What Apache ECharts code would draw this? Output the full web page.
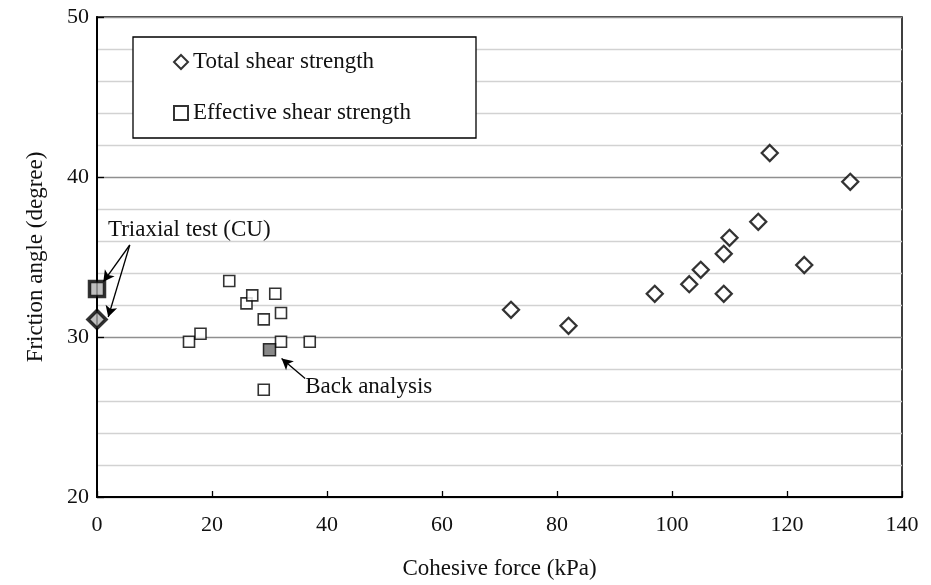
<!DOCTYPE html>
<html><head><meta charset="utf-8">
<script src="https://cdn.jsdelivr.net/npm/echarts@6/dist/echarts.min.js"></script>
<style>html,body{margin:0;padding:0;background:#fff}#c{width:931px;height:585px}</style>
</head><body><div id="c"></div>
<script>
// ---- data ----
const totalC   = [72, 82, 97, 103, 105, 109, 109, 110, 115, 117, 123, 131];
const totalPhi = [31.7, 30.7, 32.7, 33.3, 34.2, 32.7, 35.2, 36.2, 37.2, 41.5, 34.5, 39.7];
const effC     = [16, 18, 23, 26, 27, 29, 31, 32, 32, 37, 29];
const effPhi   = [29.7, 30.2, 33.5, 32.1, 32.6, 31.1, 32.7, 31.5, 29.7, 29.7, 26.7];
const triaxialTotal = [[0, 31.1]];
const triaxialEff   = [[0, 33.0]];
const backAnalysis  = [[30, 29.2]];
const xTickValues = [0, 20, 40, 60, 80, 100, 120, 140];
const yTickValues = [20, 30, 40, 50];
const seriesNames = ['Total shear strength', 'Effective shear strength'];
// annotation anchors (data coords)
const triaxialLabelAt = [1.9, 36.7];
const triaxialArrowFrom = [5.7, 35.75];
const triaxialArrowTo = [[1.1, 33.45], [1.95, 31.25]];
const backLabelAt = [36.2, 26.87];
const backArrowFrom = [36.2, 27.4];
const backArrowTo = [32.1, 28.65];

const FONT = '"Liberation Serif", "Times New Roman", serif';
const zip = (a, b) => a.map((v, i) => [v, b[i]]);

const chart = echarts.init(document.getElementById('c'), null, {renderer: 'canvas', width: 931, height: 585});
const arrowStyle = {color: '#000', width: 1.3, type: 'solid'};

chart.setOption({
  animation: false,
  backgroundColor: '#fff',
  grid: {left: 97, right: 29, top: 17, bottom: 83, show: true, borderColor: '#000', borderWidth: 1.5, backgroundColor: 'transparent'},
  xAxis: {
    type: 'value', min: xTickValues[0], max: xTickValues[xTickValues.length - 1], interval: 20,
    name: 'Cohesive force (kPa)', nameLocation: 'middle', nameGap: 60,
    nameTextStyle: {fontFamily: FONT, fontSize: 23, color: '#111'},
    axisLine: {show: true, onZero: false, lineStyle: {color: '#000', width: 2}},
    axisTick: {show: true, inside: true, length: 6, lineStyle: {color: '#000', width: 1.3}},
    axisLabel: {fontFamily: FONT, fontSize: 22, color: '#111', margin: 17},
    splitLine: {show: false}
  },
  yAxis: {
    type: 'value', min: yTickValues[0], max: yTickValues[yTickValues.length - 1], interval: 10,
    name: 'Friction angle (degree)', nameLocation: 'middle', nameGap: 50,
    nameTextStyle: {fontFamily: FONT, fontSize: 23, color: '#111'},
    axisLine: {show: true, onZero: false, lineStyle: {color: '#000', width: 2}},
    axisTick: {show: true, inside: true, length: 7, lineStyle: {color: '#000', width: 1.3}},
    axisLabel: {fontFamily: FONT, fontSize: 22, color: '#111', margin: 8},
    splitLine: {show: true, lineStyle: {color: '#8f8f8f', width: 1.3}},
    minorTick: {show: false, splitNumber: 5},
    minorSplitLine: {show: true, lineStyle: {color: '#d2d2d2', width: 1.3}}
  },
  legend: {
    data: seriesNames, orient: 'vertical', left: 173, top: 50, padding: 0,
    itemGap: 27, itemWidth: 14, itemHeight: 14, z: 20,
    textStyle: {fontFamily: FONT, fontSize: 23, color: '#111', lineHeight: 24}
  },
  series: [
    {name: seriesNames[0], type: 'scatter', clip: false, symbol: 'diamond', symbolSize: 16,
     itemStyle: {color: '#fff', borderColor: '#000', borderWidth: 2.3}, data: zip(totalC, totalPhi), z: 5},
    {name: seriesNames[1], type: 'scatter', clip: false, symbol: 'rect', symbolSize: 11,
     itemStyle: {color: '#fff', borderColor: '#000', borderWidth: 1.6}, data: zip(effC, effPhi), z: 5},
    {name: 'Triaxial total', type: 'scatter', clip: false, symbol: 'diamond', symbolSize: 18,
     itemStyle: {color: '#b0b0b0', borderColor: '#000', borderWidth: 3.5}, data: triaxialTotal, z: 6,
     markLine: {silent: true, symbol: ['none', 'arrow'], symbolSize: [9, 11], label: {show: false},
       lineStyle: arrowStyle,
       data: triaxialArrowTo.map(t => [{coord: triaxialArrowFrom}, {coord: t}]).concat([[{coord: backArrowFrom}, {coord: backArrowTo}]])}},
    {name: 'Triaxial effective', type: 'scatter', clip: false, symbol: 'rect', symbolSize: 15,
     itemStyle: {color: '#b0b0b0', borderColor: '#000', borderWidth: 3.5}, data: triaxialEff, z: 6},
    {name: 'Back analysis', type: 'scatter', clip: false, symbol: 'rect', symbolSize: 12,
     itemStyle: {color: '#6a6a6a', borderColor: '#000', borderWidth: 1.5}, data: backAnalysis, z: 6}
  ]
});

const p1 = chart.convertToPixel({gridIndex: 0}, triaxialLabelAt);
const p2 = chart.convertToPixel({gridIndex: 0}, backLabelAt);
chart.setOption({
  graphic: [
    {type: 'rect', z: 10, shape: {x: 133, y: 37, width: 343, height: 101},
     style: {fill: '#fff', stroke: '#000', lineWidth: 1.3}},
    {type: 'text', z: 10, x: p1[0], y: p1[1],
     style: {text: 'Triaxial test (CU)', font: '23px ' + FONT, fill: '#111', verticalAlign: 'middle', align: 'left'}},
    {type: 'text', z: 10, x: p2[0], y: p2[1],
     style: {text: 'Back analysis', font: '23px ' + FONT, fill: '#111', verticalAlign: 'middle', align: 'left'}}
  ]
});
</script></body></html>
